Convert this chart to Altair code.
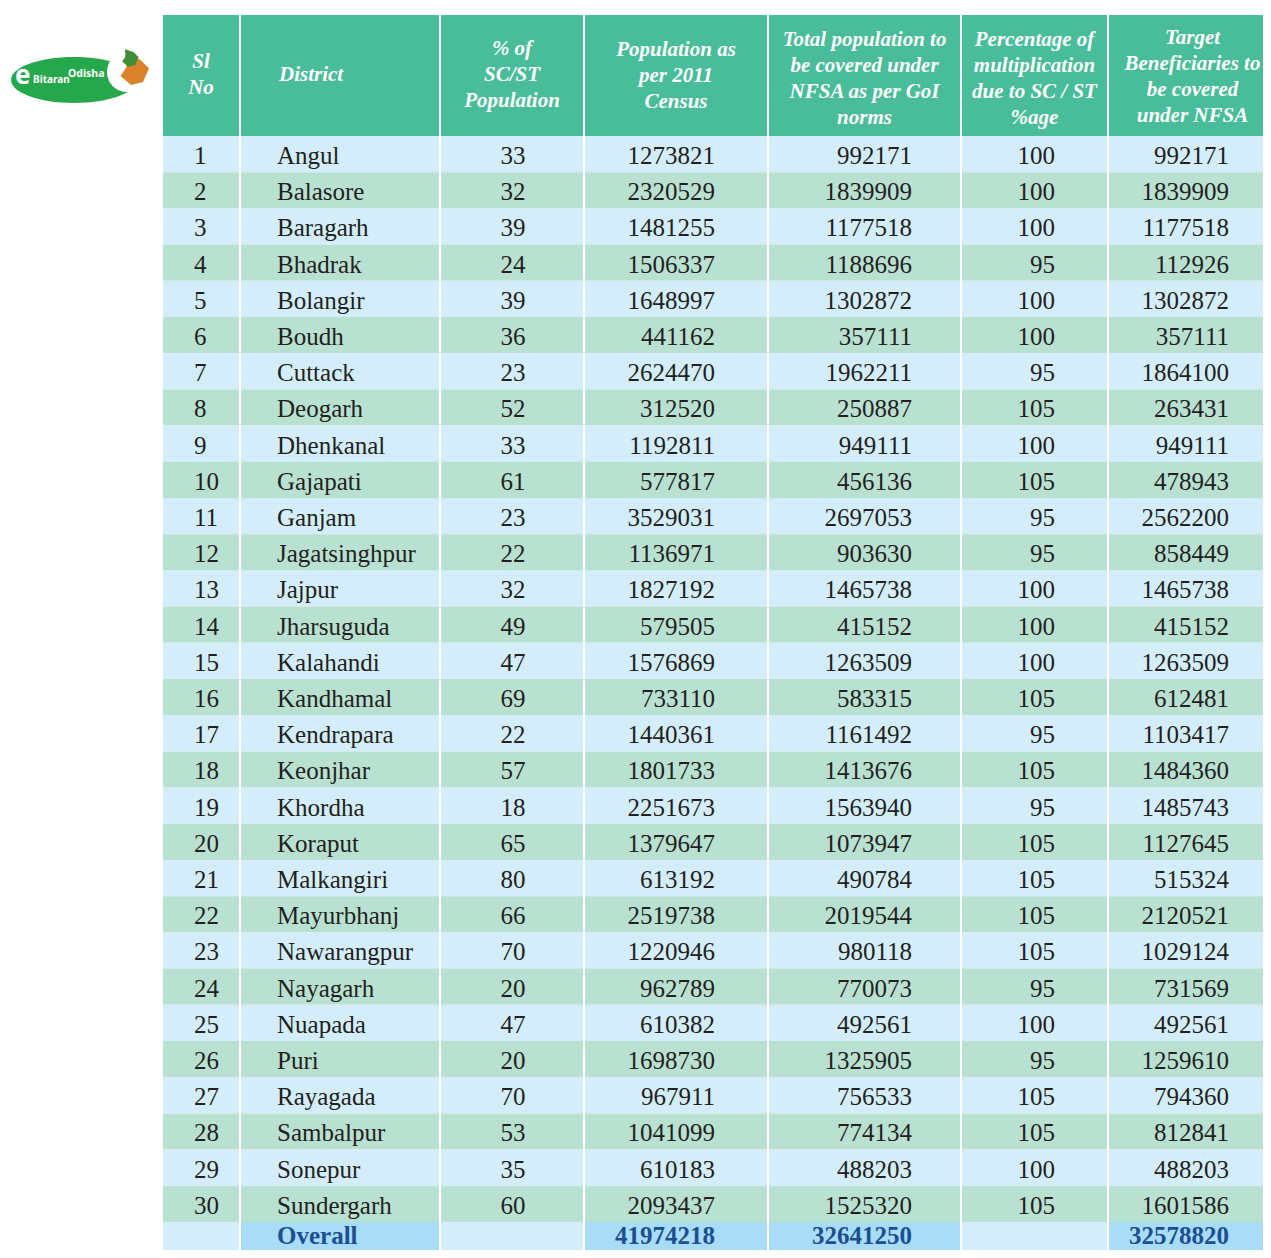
import altair as alt
import pandas as pd

# ---------------- data ----------------
sl_no = list(range(1, 31))
districts = ["Angul", "Balasore", "Baragarh", "Bhadrak", "Bolangir", "Boudh", "Cuttack",
             "Deogarh", "Dhenkanal", "Gajapati", "Ganjam", "Jagatsinghpur", "Jajpur",
             "Jharsuguda", "Kalahandi", "Kandhamal", "Kendrapara", "Keonjhar", "Khordha",
             "Koraput", "Malkangiri", "Mayurbhanj", "Nawarangpur", "Nayagarh", "Nuapada",
             "Puri", "Rayagada", "Sambalpur", "Sonepur", "Sundergarh"]
sc_st_pct = [33, 32, 39, 24, 39, 36, 23, 52, 33, 61, 23, 22, 32, 49, 47, 69, 22, 57, 18,
             65, 80, 66, 70, 20, 47, 20, 70, 53, 35, 60]
pop_2011 = [1273821, 2320529, 1481255, 1506337, 1648997, 441162, 2624470, 312520, 1192811,
            577817, 3529031, 1136971, 1827192, 579505, 1576869, 733110, 1440361, 1801733,
            2251673, 1379647, 613192, 2519738, 1220946, 962789, 610382, 1698730, 967911,
            1041099, 610183, 2093437]
nfsa_total = [992171, 1839909, 1177518, 1188696, 1302872, 357111, 1962211, 250887, 949111,
              456136, 2697053, 903630, 1465738, 415152, 1263509, 583315, 1161492, 1413676,
              1563940, 1073947, 490784, 2019544, 980118, 770073, 492561, 1325905, 756533,
              774134, 488203, 1525320]
mult_pct = [100, 100, 100, 95, 100, 100, 95, 105, 100, 105, 95, 95, 100, 100, 100, 105, 95,
            105, 95, 105, 105, 105, 105, 95, 100, 95, 105, 105, 100, 105]
target = [992171, 1839909, 1177518, 112926, 1302872, 357111, 1864100, 263431, 949111,
          478943, 2562200, 858449, 1465738, 415152, 1263509, 612481, 1103417, 1484360,
          1485743, 1127645, 515324, 2120521, 1029124, 731569, 492561, 1259610, 794360,
          812841, 488203, 1601586]
overall_label = "Overall"
overall_pop = 41974218
overall_nfsa = 32641250
overall_target = 32578820

header_lines = [
    ["Sl", "No"],
    ["District"],
    ["% of", "SC/ST", "Population"],
    ["Population as", "per 2011", "Census"],
    ["Total population to", "be covered under", "NFSA as per GoI", "norms"],
    ["Percentage of", "multiplication", "due to SC / ST", "%age"],
    ["Target", "Beneficiaries to", "be covered", "under NFSA"],
]

# ---------------- layout / style ----------------
W, H = 1255, 1242
OFF = 8
col_edges = [162, 240, 440, 584, 768, 961, 1108, 1277]
header_top, header_bottom = 15, 136
row_h = 36.2
base_off = 28
total_base_off = 22
header_centers_y = [75, 75, 75, 76, 79, 79, 77]
header_lh = 26
col_anchor = [(194, "left"), (277, "left"), (513, "center"), (715, "right"),
              (912, "right"), (1055, "right"), (1229, "right")]

C_HEAD = "#49bc99"
C_LIGHT = "#d3eefa"
C_GREEN = "#b9e1d2"
C_STRONG = "#a9dcf6"
C_TEXT = "#231f20"
C_BLUE = "#1c4f92"
overall_fill = [C_LIGHT, C_STRONG, C_LIGHT, C_STRONG, C_STRONG, C_LIGHT, C_STRONG]

# ---------------- build tables ----------------
cells = []
for c in range(7):
    x1, x2 = col_edges[c] + 1, col_edges[c + 1] - 1
    cells.append(dict(x=x1, x2=x2, y=header_top, y2=header_bottom, fill=C_HEAD))
    for i in range(30):
        t = header_bottom + i * row_h
        cells.append(dict(x=x1, x2=x2, y=t, y2=t + row_h,
                          fill=C_LIGHT if i % 2 == 0 else C_GREEN))
    t = header_bottom + 30 * row_h
    cells.append(dict(x=x1, x2=x2, y=t, y2=t + row_h + 10, fill=overall_fill[c]))
cells_df = pd.DataFrame(cells)

texts = []
cols = [sl_no, districts, sc_st_pct, pop_2011, nfsa_total, mult_pct, target]
for i in range(30):
    yb = header_bottom + i * row_h + base_off
    for c in range(7):
        x, g = col_anchor[c]
        texts.append(dict(x=x, y=yb, text=str(cols[c][i]), g="body_" + g))
yb = header_bottom + 30 * row_h + total_base_off
for c, val in [(1, overall_label), (3, overall_pop), (4, overall_nfsa), (6, overall_target)]:
    x, g = col_anchor[c]
    texts.append(dict(x=x, y=yb, text=str(val), g="tot_" + g))
for c, lines in enumerate(header_lines):
    n = len(lines)
    cx = (col_edges[c] + col_edges[c + 1]) / 2
    g = "head_center"
    if c == 1:
        cx = 279
        g = "head_left"
    for k, ln in enumerate(lines):
        yy = header_centers_y[c] + (k - (n - 1) / 2) * header_lh
        texts.append(dict(x=cx, y=yy, text=ln, g=g))
texts_df = pd.DataFrame(texts)

logo_df = pd.DataFrame([
    dict(x=74, y=80, part="ellipse"),
    dict(x=127, y=72, part="moon"),
    dict(x=134, y=70, part="map_o"),
    dict(x=130, y=58, part="map_g"),
    dict(x=15, y=84, part="e", text="e"),
    dict(x=33, y=83, part="t1", text="Bitaran"),
    dict(x=68, y=77, part="t2", text="Odisha"),
])

xs = alt.Scale(domain=[OFF, OFF + W], nice=False, zero=False)
ys = alt.Scale(domain=[OFF, OFF + H], nice=False, zero=False, reverse=True)
X = lambda f="x": alt.X(f + ":Q", scale=xs, axis=None)
Y = lambda f="y": alt.Y(f + ":Q", scale=ys, axis=None)

rects = alt.Chart(cells_df).mark_rect(strokeWidth=0, clip=True).encode(
    x=X(), x2="x2:Q", y=Y(), y2="y2:Q", fill=alt.Fill("fill:N", scale=None))

def tlayer(group, **kw):
    return alt.Chart(texts_df).transform_filter(alt.datum.g == group).mark_text(**kw).encode(
        x=X(), y=Y(), text="text:N")

body = dict(font="Liberation Serif", fontSize=25, color=C_TEXT, baseline="alphabetic")
tot = dict(font="Liberation Serif", fontSize=25, color=C_BLUE, fontWeight="bold",
           baseline="alphabetic")
head = dict(font="Liberation Serif", fontSize=21, color="white", fontWeight="bold",
            fontStyle="italic", baseline="middle")

layers = [
    rects,
    tlayer("body_left", align="left", **body),
    tlayer("body_center", align="center", **body),
    tlayer("body_right", align="right", **body),
    tlayer("tot_left", align="left", **tot),
    tlayer("tot_right", align="right", **tot),
    tlayer("head_center", align="center", **head),
    tlayer("head_left", align="left", **head),
]

ellipse_path = ("M-1,0 C-1,-0.201 -0.552,-0.364 0,-0.364 C0.552,-0.364 1,-0.201 1,0 "
                "C1,0.201 0.552,0.364 0,0.364 C-0.552,0.364 -1,0.201 -1,0 Z")
map_path = "M-0.6,-1 L0.4,-0.7 L1,-0.1 L0.6,0.8 L-0.2,1 L-0.9,0.4 L-0.5,-0.2 Z"

def logo(part, **kw):
    return alt.Chart(logo_df).transform_filter(alt.datum.part == part).mark_point(
        filled=True, opacity=1, strokeWidth=0, **kw).encode(x=X(), y=Y())

def logo_text(part, **kw):
    return alt.Chart(logo_df).transform_filter(alt.datum.part == part).mark_text(
        color="white", fontWeight="bold", baseline="alphabetic", align="left", **kw
    ).encode(x=X(), y=Y(), text="text:N")

layers += [
    logo("ellipse", shape=ellipse_path, size=15876, color="#25a84b"),
    logo("moon", shape="circle", size=1600, color="white"),
    logo("map_o", shape=map_path, size=900, color="#d9822b"),
    logo("map_g", shape=map_path, size=300, color="#3f8f3a"),
    logo_text("e", font="Noto Sans", fontSize=26),
    logo_text("t1", font="Noto Sans", fontSize=10),
    logo_text("t2", font="Noto Sans", fontSize=10.5),
]

chart = alt.layer(*layers).properties(
    width=W, height=H, padding=0, autosize=alt.AutoSizeParams(type="none")
).configure_view(stroke=None)

chart.save("out.html", embed_options={"renderer": "svg", "actions": False})
